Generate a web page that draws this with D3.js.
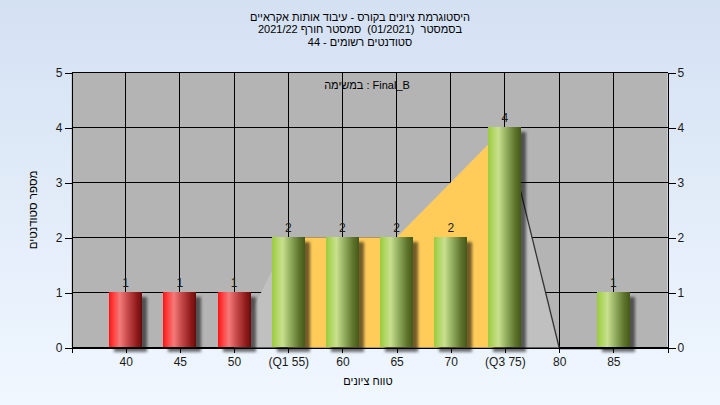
<!DOCTYPE html>
<html><head><meta charset="utf-8">
<script src="https://cdn.jsdelivr.net/npm/d3@7"></script>
<style>html,body{margin:0;padding:0;background:#fff}svg{display:block}text{white-space:pre}</style>
</head><body><svg id="c" width="720" height="405"></svg>
<script>
// ---- data ----
const titleLines = ["היסטוגרמת ציונים בקורס - עיבוד אותות אקראיים", "בסמסטר  (01/2021)  סמסטר חורף 2021/22", "סטודנטים רשומים - 44"];
const subTitle = "במשימה : Final_B";
const xTitle = "טווח ציונים";
const yTitle = "מספר סטודנטים";
const categories = ["40", "45", "50", "(Q1 55)", "60", "65", "70", "(Q3 75)", "80", "85"];
const counts = [1, 1, 1, 2, 2, 2, 2, 4, 0, 1];
const barGroup = ["fail", "fail", "fail", "pass", "pass", "pass", "pass", "pass", "pass", "pass"];
const rangeArea = [0, 0, 0, 2, 2, 2, 3, 4, 0, 0];
const quartiles = ["(Q1 55)", "(Q3 75)"];
const yTicks = [0, 1, 2, 3, 4, 5];

// ---- layout ----
const svg = d3.select("#c");
const defs = svg.append("defs");
const FONT = "'Liberation Sans', Arial, 'DejaVu Sans', sans-serif";
const TXT = "#1a1a1a";

const bg = defs.append("linearGradient").attr("id", "bg").attr("x1", 0).attr("y1", 0).attr("x2", 0).attr("y2", 1);
bg.append("stop").attr("offset", "0%").attr("stop-color", "#d4e1f3");
bg.append("stop").attr("offset", "100%").attr("stop-color", "#f0f7ff");

function barGrad(id, stops) {
  const g = defs.append("linearGradient").attr("id", id).attr("x1", 0).attr("y1", 0).attr("x2", 1).attr("y2", 0);
  stops.forEach(([o, c]) => g.append("stop").attr("offset", o).attr("stop-color", c));
}
barGrad("g-fail", [["0%", "#ff1414"], ["10%", "#ff3434"], ["33%", "#f47a7a"], ["60%", "#c04242"], ["85%", "#8e1a1a"], ["100%", "#680a0a"]]);
barGrad("g-pass", [["0%", "#9acb3a"], ["10%", "#a9d356"], ["32%", "#c8e08e"], ["58%", "#8da85a"], ["82%", "#5e742c"], ["100%", "#465818"]]);

const sh = defs.append("filter").attr("id", "shadow").attr("x", "-20%").attr("y", "-20%").attr("width", "160%").attr("height", "160%");
sh.append("feDropShadow").attr("dx", 5).attr("dy", 5).attr("stdDeviation", 1.6).attr("flood-color", "#000").attr("flood-opacity", 0.55);

svg.append("rect").attr("width", 720).attr("height", 405).attr("fill", "url(#bg)");

const L = 71.5, R = 667.5, T = 72.5, B = 347.5;
const x = d3.scaleLinear().domain([0, categories.length + 1]).range([L, R]);
const y = d3.scaleLinear().domain([0, 5]).range([B, T]);
const cx = i => x(i + 1);
const crisp = v => Math.round(v - 0.5) + 0.5;

// plot background
svg.append("rect").attr("x", L).attr("y", T).attr("width", R - L).attr("height", B - T).attr("fill", "#b4b4b4");

// gridlines
const grid = svg.append("g").attr("stroke", "#000").attr("stroke-width", 1).attr("shape-rendering", "crispEdges");
grid.selectAll("line.h").data(yTicks).join("line").attr("class", "h")
  .attr("x1", L).attr("x2", R).attr("y1", d => crisp(y(d))).attr("y2", d => crisp(y(d)));
grid.selectAll("line.v").data(categories).join("line").attr("class", "v")
  .attr("x1", (d, i) => crisp(cx(i))).attr("x2", (d, i) => crisp(cx(i))).attr("y1", T).attr("y2", B);

// range area
const q1 = categories.indexOf(quartiles[0]), q3 = categories.indexOf(quartiles[1]);
const area = d3.area().x(d => cx(d.i)).y0(y(0)).y1(d => y(d.v));
const pts = rangeArea.map((v, i) => ({ i, v }));
svg.append("path").datum(pts).attr("d", area).attr("fill", "#c0c0c0");
svg.append("path").datum(pts.slice(q1, q3 + 1)).attr("d", area).attr("fill", "#ffcc5a");
const line = d3.line().x(d => cx(d.i)).y(d => y(d.v));
svg.append("path").datum(pts.slice(q3, q3 + 2)).attr("d", line).attr("fill", "none").attr("stroke", "#333").attr("stroke-width", 1.3);
svg.append("path").datum(pts.slice(q3 + 1)).attr("d", line).attr("fill", "none").attr("stroke", "#7a7a7a").attr("stroke-width", 1).attr("transform", "translate(0,1.5)");

// bars
const bw = 33;
svg.append("g").selectAll("rect").data(counts.map((v, i) => ({ v, i }))).join("rect")
  .filter(d => d.v > 0)
  .attr("x", d => Math.round(cx(d.i) - bw / 2)).attr("width", bw)
  .attr("y", d => y(d.v) - 0.5).attr("height", d => y(0) - y(d.v))
  .attr("fill", d => `url(#g-${barGroup[d.i]})`).attr("filter", "url(#shadow)");

// value labels
svg.append("g").selectAll("text").data(counts.map((v, i) => ({ v, i })).filter(d => d.v > 0)).join("text")
  .attr("x", d => cx(d.i)).attr("y", d => y(d.v) - 6).attr("text-anchor", "middle")
  .attr("font-family", FONT).attr("font-size", 12).attr("fill", TXT).text(d => d.v);

// axes
function styleAxis(g) {
  g.attr("font-family", FONT).attr("font-size", 12);
  g.selectAll("path,line").attr("stroke", "#000").attr("stroke-width", 1).attr("shape-rendering", "crispEdges");
  g.selectAll("text").attr("fill", TXT);
}
svg.append("g").attr("transform", `translate(0,${B})`)
  .call(d3.axisBottom(x).tickValues(d3.range(0, categories.length + 2)).tickSize(5).tickSizeOuter(0).tickPadding(5)
    .tickFormat(i => categories[i - 1] || ""))
  .call(styleAxis);
svg.append("g").attr("transform", `translate(${L},0)`)
  .call(d3.axisLeft(y).tickValues(yTicks).tickSize(7).tickSizeOuter(0).tickPadding(2).tickFormat(d3.format("d")))
  .call(styleAxis);
svg.append("g").attr("transform", `translate(${R},0)`)
  .call(d3.axisRight(y).tickValues(yTicks).tickSize(8).tickSizeOuter(0).tickPadding(2).tickFormat(d3.format("d")))
  .call(styleAxis);

// titles
svg.append("g").selectAll("text").data(titleLines).join("text")
  .attr("x", 360).attr("y", (d, i) => 21 + i * 12.4).attr("text-anchor", "middle")
  .attr("font-family", FONT).attr("font-size", 11).attr("fill", "#000").text(d => d);
svg.append("text").attr("x", 367).attr("y", 89).attr("text-anchor", "middle")
  .attr("font-family", FONT).attr("font-size", 11).attr("fill", "#000").text(subTitle);
svg.append("text").attr("x", 368).attr("y", 385).attr("text-anchor", "middle")
  .attr("font-family", FONT).attr("font-size", 11).attr("fill", "#000").text(xTitle);
svg.append("text").attr("transform", `translate(37,${(T + B) / 2}) rotate(-90)`).attr("text-anchor", "middle")
  .attr("font-family", FONT).attr("font-size", 11.5).attr("fill", "#000").text(yTitle);
</script></body></html>
